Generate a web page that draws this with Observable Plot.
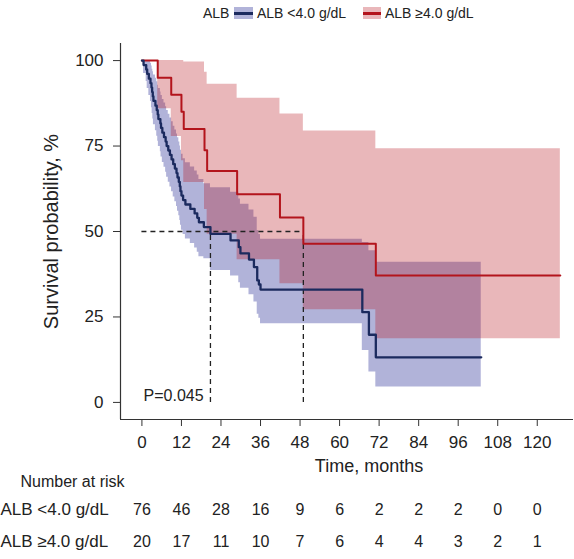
<!DOCTYPE html>
<html><head><meta charset="utf-8">
<script src="https://cdn.jsdelivr.net/npm/d3@7"></script>
<script src="https://cdn.jsdelivr.net/npm/@observablehq/plot@0.6"></script>
<style>
body{margin:0;background:#fff;font-family:"Liberation Sans",Arial,Helvetica,sans-serif;}
#wrap{position:relative;width:574px;height:559px;overflow:hidden;}
.lg{position:absolute;top:3px;height:20px;line-height:20px;font-size:14px;color:#222;white-space:nowrap;}
.sw{position:absolute;top:7px;height:12px;}
.sw i{position:absolute;left:0;right:0;top:5px;height:2.5px;}
</style></head><body>
<div id="wrap">
  <div class="lg" style="left:203px">ALB</div>
  <div class="sw" style="left:234px;width:19px;background:rgba(60,64,160,0.4)"><i style="background:#1b2a5e"></i></div>
  <div class="lg" id="lg1" style="left:257px"></div>
  <div class="sw" style="left:363px;width:18px;background:rgba(181,18,27,0.3)"><i style="background:#b3141c"></i></div>
  <div class="lg" id="lg2" style="left:385px"></div>
  <div id="chart"></div>
</div>
<script>
const groups = ["ALB <4.0 g/dL", "ALB ≥4.0 g/dL"];

// ALB <4.0 g/dL (blue)
const blueTime  = [0,0.5,1.3,1.6,2.1,2.6,2.9,3.1,3.3,3.5,4.1,4.5,4.8,5.0,5.6,5.8,6.2,6.7,7.2,7.5,8.0,8.5,9.0,9.5,10.0,10.5,10.8,11.2,11.5,11.7,12.0,12.5,13.2,14.7,16.0,16.8,17.3,18.8,20.8,26.9,29.4,29.9,32.5,34.0,35.0,35.5,36.0,66.9,68.9,71.0];
const blueSurv  = [100,98.7,97.4,96.1,94.7,93.4,92.1,90.8,89.5,88.2,86.8,85.5,84.2,82.9,81.6,80.3,78.9,77.6,76.3,75.0,73.7,72.4,71.1,69.7,68.4,67.1,65.8,64.5,63.2,61.8,60.5,59.2,57.9,56.6,55.3,54.0,52.7,51.3,49.3,47.4,45.4,43.6,41.8,39.6,35.7,34.5,33.0,26.4,19.8,13.2];
const blueLower = [100,96.2,93.9,91.8,89.8,88.0,86.2,84.5,82.9,81.2,79.5,77.9,76.4,74.9,73.3,71.8,70.2,68.8,67.3,65.9,64.4,63.0,61.6,60.1,58.7,57.3,55.9,54.6,53.2,51.8,50.4,49.1,47.8,46.5,45.2,43.9,42.6,42.0,38.6,37.0,35.0,33.4,31.5,29.4,25.8,24.6,23.0,15.2,8.9,4.5];
const blueUpper = [100,100,100,100,99.9,99.2,98.4,97.5,96.7,95.8,94.8,93.8,92.8,91.8,90.8,89.8,88.6,87.6,86.5,85.4,84.3,83.2,82.1,80.8,79.7,78.5,77.4,76.2,75.0,73.8,72.6,71.3,70.1,68.9,67.7,66.5,65.2,64.0,62.8,61.5,59.5,58.0,56.3,54.2,50.3,49.1,47.7,46.8,44.4,41.0];
const blueEnd = 103;

// ALB ≥4.0 g/dL (red)
const redTime  = [0,4.8,8.9,12.0,12.7,19.0,19.8,28.9,41.9,49.0,71.0];
const redSurv  = [100,95,90,85,80,73.8,67.7,60.9,54.1,46.4,37.1];
const redLower = [100,85.9,77.8,70.7,64.3,56.4,49.2,41.7,34.7,27.1,18.6];
const redUpper = [100,100,100,100,99.6,96.6,93.1,89.0,84.4,79.4,74.2];
const redEnd = 127;

const medianTimes = [20.8, 49.0];
const xTicks = [0,12,24,36,48,60,72,84,96,108,120];
const yTicks = [0,25,50,75,100];
const riskTimes = [0,12,24,36,48,60,72,84,96,108,120];
const riskLow  = [76,46,28,16,9,6,2,2,2,0,0];
const riskHigh = [20,17,11,10,7,6,4,4,3,2,1];
const pLabel = "P=0.045";

document.getElementById("lg1").textContent = groups[0];
document.getElementById("lg2").textContent = groups[1];

function rows(time, surv, lo, up, end) {
  const r = time.map((t, i) => ({t, s: surv[i], lo: lo[i], up: up[i]}));
  const last = r[r.length - 1];
  r.push({t: end, s: last.s, lo: last.lo, up: last.up});
  return r;
}
const blue = rows(blueTime, blueSurv, blueLower, blueUpper, blueEnd);
const red = rows(redTime, redSurv, redLower, redUpper, redEnd);

const xDomain = [-6.5, 131];
const yDomain = [-5, 105];
const axisColor = "#333";
const blueLine = "#1b2a5e", redLine = "#b3141c";

const chart = Plot.plot({
  width: 574, height: 559,
  marginTop: 43, marginBottom: 140, marginLeft: 120, marginRight: 1,
  style: {fontFamily: '"Liberation Sans", Arial, Helvetica, sans-serif', fontSize: "17px", color: "#222", background: "#fff"},
  x: {domain: xDomain},
  y: {domain: yDomain},
  marks: [
    Plot.areaY(blue, {x: "t", y1: "lo", y2: "up", curve: "step-after", fill: "#3c40a0", fillOpacity: 0.4}),
    Plot.areaY(red, {x: "t", y1: "lo", y2: "up", curve: "step-after", fill: "#b5121b", fillOpacity: 0.3}),
    Plot.ruleY([50], {x1: 0, x2: medianTimes[1], stroke: "#222", strokeWidth: 1.3, strokeDasharray: "5,4"}),
    Plot.ruleX(medianTimes, {y1: 0, y2: 50, stroke: "#222", strokeWidth: 1.3, strokeDasharray: "5,4"}),
    Plot.line(red, {x: "t", y: "s", curve: "step-after", stroke: redLine, strokeWidth: 2}),
    Plot.line(blue, {x: "t", y: "s", curve: "step-after", stroke: blueLine, strokeWidth: 2.3}),
    Plot.text([pLabel], {x: 0.5, y: 2, text: d => d, textAnchor: "start", fontSize: 16, fill: "#222"}),
    Plot.ruleX([xDomain[0]], {stroke: axisColor, strokeWidth: 1.2}),
    Plot.ruleY([yDomain[0]], {stroke: axisColor, strokeWidth: 1.2}),
    Plot.axisX({ticks: xTicks, tickSize: 7, tickPadding: 9, label: null, stroke: axisColor, fontSize: 17}),
    Plot.axisY({ticks: yTicks, tickSize: 7, tickPadding: 10, label: null, stroke: axisColor, fontSize: 17}),
    Plot.text(["Survival probability, %"], {frameAnchor: "left", dx: -69, rotate: -90, textAnchor: "middle", text: d => d, fontSize: 20, fill: "#222"}),
    Plot.text(["Time, months"], {frameAnchor: "bottom", dx: 22, dy: 52, text: d => d, fontSize: 18, fill: "#222"}),
    Plot.text(["Number at risk"], {frameAnchor: "bottom-left", dx: -100, dy: 67, textAnchor: "start", text: d => d, fontSize: 16, fill: "#222"}),
    Plot.text([groups[0]], {frameAnchor: "bottom-left", dx: -120, dy: 95, textAnchor: "start", text: d => d, fontSize: 17, fill: "#222"}),
    Plot.text([groups[1]], {frameAnchor: "bottom-left", dx: -120, dy: 127, textAnchor: "start", text: d => d, fontSize: 17, fill: "#222"}),
    Plot.text(riskTimes, {x: d => d, text: (d, i) => riskLow[i], frameAnchor: "bottom", dy: 95, fontSize: 16, fill: "#222"}),
    Plot.text(riskTimes, {x: d => d, text: (d, i) => riskHigh[i], frameAnchor: "bottom", dy: 127, fontSize: 16, fill: "#222"})
  ]
});
document.getElementById("chart").appendChild(chart);
</script>
</body></html>
